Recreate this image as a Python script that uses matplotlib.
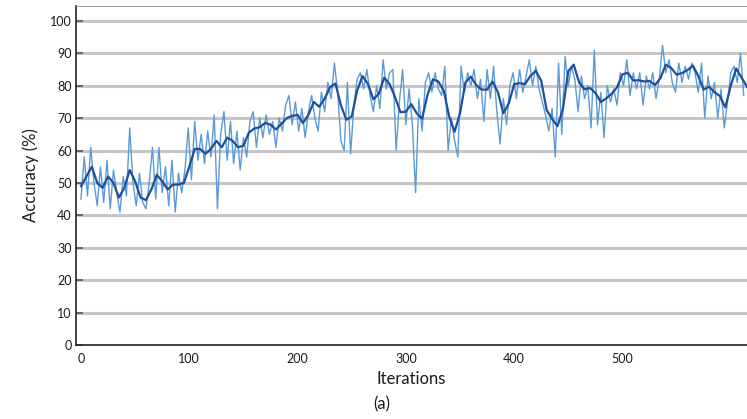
import matplotlib
matplotlib.use("Agg")
import matplotlib.pyplot as plt
import numpy as np

# ── Data ──────────────────────────────────────────────────────────────────
# raw accuracy, one reading every 3 iterations
raw_iter = np.arange(0, 613, 3)
raw_acc = [
    45, 58, 46, 61, 50, 43, 55, 44, 57, 42, 54, 47, 41, 52, 46, 67, 50, 43, 53, 44,
    42, 50, 61, 45, 61, 47, 55, 43, 57, 41, 53, 47, 54, 67, 51, 69, 57, 65, 56, 66,
    58, 71, 42, 65, 72, 57, 69, 56, 66, 54, 64, 58, 69, 72, 61, 70, 64, 71, 65, 69,
    61, 70, 66, 74, 77, 68, 75, 66, 73, 64, 72, 77, 70, 66, 78, 72, 81, 76, 87, 78,
    63, 60, 81, 59, 74, 82, 84, 79, 85, 77, 72, 80, 73, 88, 79, 84, 85, 60, 75, 85,
    68, 79, 68, 47, 76, 66, 81, 84, 78, 84, 79, 77, 86, 60, 70, 63, 58, 86, 78, 84,
    80, 85, 76, 82, 69, 85, 76, 86, 72, 62, 76, 68, 80, 84, 76, 85, 78, 83, 88, 80,
    86, 79, 75, 71, 66, 73, 58, 87, 65, 89, 80, 86, 82, 72, 83, 76, 80, 67, 91, 68,
    78, 64, 80, 75, 79, 74, 84, 80, 88, 77, 84, 79, 84, 74, 83, 79, 84, 76, 82, 92.5,
    84, 88, 81, 78, 87, 81, 86, 82, 87, 84, 78, 87, 70, 83, 76, 81, 70, 79, 67, 75,
    84, 86, 81, 90, 77,
]

# smoothed accuracy, every 5 iterations
smooth_iter = np.arange(0, 616, 5)
smooth_acc = [
    49, 52, 55, 50, 48.5, 52, 50, 45.5, 48.5, 54, 50.5, 45.5, 44.7, 48, 52.5, 50.5,
    48, 49.5, 49.5, 50, 55, 60.5, 60.5, 59, 60.5, 63, 61, 64, 63, 61, 61.5, 65.5,
    66.8, 67.2, 68.5, 68, 66.5, 68.2, 70, 70.7, 71, 68.5, 71, 75, 73.5, 76, 79.5, 80.7,
    74, 69.5, 70.5, 78.5, 83, 80.5, 75.8, 77.5, 82.5, 80.5, 76.5, 71.8, 72, 74.3, 71.5,
    69.8, 77.2, 82, 81.3, 78.5, 70.5, 65.8, 71.5, 81, 82.8, 80.2, 78.8, 78.8, 81.3, 78,
    71.5, 74.5, 80.5, 80.8, 80.5, 83, 84.6, 81.5, 72.5, 69.8, 67.5, 72.8, 84.5, 86.5,
    81, 78.9, 79.3, 77.8, 75, 76.1, 77.5, 79.5, 83.5, 84, 81.6, 81.7, 81.3, 81.5, 80.2,
    82.3, 86.5, 85.5, 83.4, 83.9, 84.8, 86.2, 83, 78.8, 79.7, 78, 76.8, 73.3, 80, 85.3,
    82.5, 79.7,
]

LIGHT_BLUE = "#5b9bd5"
DARK_BLUE = "#1f4f9c"
GRID = "#c6c6c6"
TXT = "#1a1a1a"

plt.rcParams["font.family"] = ["Lato", "DejaVu Sans"]

fig = plt.figure(figsize=(7.47, 4.19), dpi=100)
ax = fig.add_axes([76 / 747, 74 / 419, 1 - 76 / 747, 339 / 419])

ax.plot(raw_iter, raw_acc, color=LIGHT_BLUE, linewidth=1.0, zorder=2)
ax.plot(smooth_iter, smooth_acc, color=DARK_BLUE, linewidth=1.6, zorder=3)

# gridlines at every 10 (not at 0)
for v in range(10, 101, 10):
    ax.axhline(v, color=GRID, linewidth=2.2, zorder=1)

ax.set_xlim(-4.6, 615)
ax.set_ylim(0, 104.6)
ax.set_xticks(range(0, 501, 100))
ax.set_yticks(range(0, 101, 10))
ax.tick_params(axis="y", direction="in", length=5, width=1.2, color="#555555",
               labelsize=9, labelcolor=TXT, pad=3)
ax.tick_params(axis="x", length=0, labelsize=9, labelcolor=TXT, pad=6)

for s in ["left", "bottom", "top"]:
    ax.spines[s].set_color("#222222")
    ax.spines[s].set_linewidth(1.2)
ax.spines["top"].set_color("#888888")
ax.spines["top"].set_linewidth(0.6)
ax.spines["right"].set_visible(False)

ax.set_ylabel("Accuracy (%)", fontsize=12, color=TXT, labelpad=8)
ax.set_xlabel("Iterations", fontsize=12, color=TXT, labelpad=4)
fig.text(382 / 747, 1 - 404 / 419, "(a)", fontsize=12, color=TXT,
         ha="center", va="center")

fig.savefig("out.png", dpi=100, facecolor="white")
